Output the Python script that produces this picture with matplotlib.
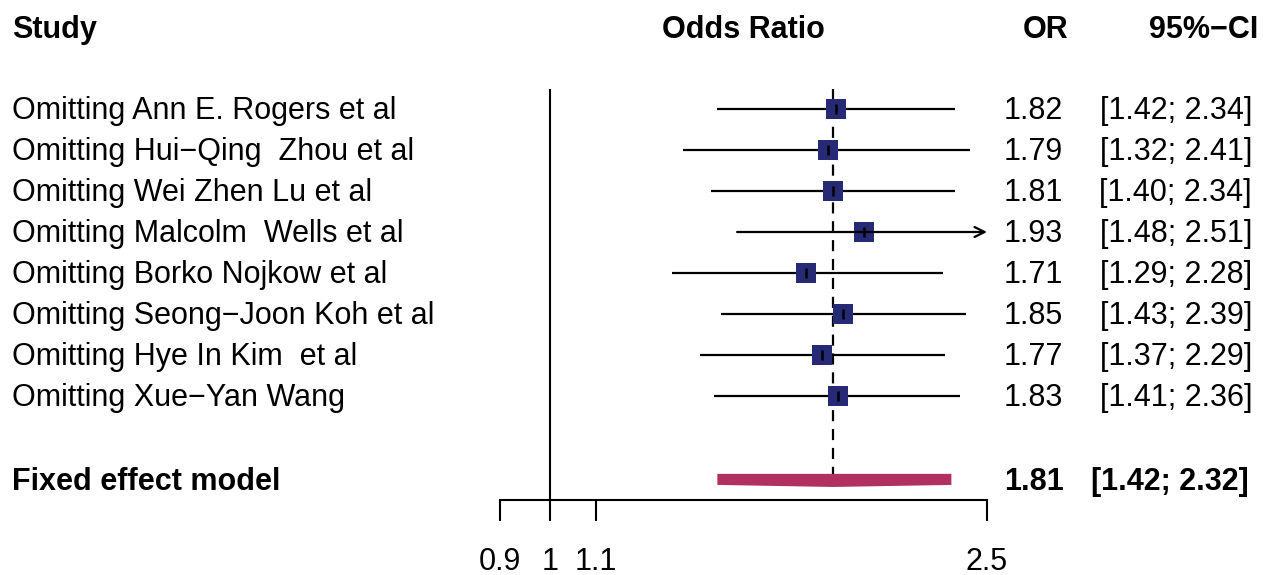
import numpy as np
import matplotlib
matplotlib.use('Agg')
import matplotlib.pyplot as plt

plt.rcParams['font.family'] = ['Liberation Sans', 'DejaVu Sans']

studies = ['Omitting Ann E. Rogers et al', 'Omitting Hui\u2212Qing  Zhou et al',
           'Omitting Wei Zhen Lu et al', 'Omitting Malcolm  Wells et al',
           'Omitting Borko Nojkow et al', 'Omitting Seong\u2212Joon Koh et al',
           'Omitting Hye In Kim  et al', 'Omitting Xue\u2212Yan Wang']
odds = [1.82, 1.79, 1.81, 1.93, 1.71, 1.85, 1.77, 1.83]
lower = [1.42, 1.32, 1.40, 1.48, 1.29, 1.43, 1.37, 1.41]
upper = [2.34, 2.41, 2.34, 2.51, 2.28, 2.39, 2.29, 2.36]

fixed_label = 'Fixed effect model'
fixed_or = 1.81
fixed_lo = 1.42
fixed_hi = 2.32

xticks = [0.9, 1, 1.1, 2.5]
xmin, xmax = 0.9, 2.5

W, H = 1263, 575
fig = plt.figure(figsize=(W / 100, H / 100), dpi=100)

# row i sits at pixel 109 + 41*i
def px2row(p):
    return (p - 109) / 41.0

ax = fig.add_axes([500 / W, 0, (987 - 500) / W, 1])
ax.set_xscale('log')
ax.set_xlim(xmin, xmax)
ax.set_ylim(px2row(H), px2row(0))
ax.patch.set_visible(False)
for s in ['top', 'left', 'right']:
    ax.spines[s].set_visible(False)

axis_row = px2row(500)
fixed_row = px2row(480)
top_row = px2row(89)

fs = 22

ax.spines['bottom'].set_position(('data', axis_row))
ax.spines['bottom'].set_bounds(xmin, xmax)
ax.spines['bottom'].set_linewidth(1.5)
ax.set_xticks(xticks)
ax.set_xticklabels([str(t) for t in xticks])
ax.xaxis.set_minor_locator(matplotlib.ticker.NullLocator())
ax.tick_params(axis='x', direction='out', length=15, width=1.5, pad=19, labelsize=fs)
ax.set_yticks([])

# reference line at 1 and dashed line at pooled estimate
ax.vlines(1, top_row, axis_row, color='black', lw=1.5)
ax.vlines(fixed_or, top_row, fixed_row - 0.15, color='black', lw=1.6, linestyles=(0, (5, 3.5)))

rows = np.arange(len(studies))
for r, o, lo, hi in zip(rows, odds, lower, upper):
    if hi > xmax:
        ax.annotate('', xy=(xmax, r), xytext=(lo, r),
                    arrowprops=dict(arrowstyle='->', lw=1.6, color='black', mutation_scale=18,
                                    shrinkA=0, shrinkB=0))
    else:
        ax.plot([lo, hi], [r, r], color='black', lw=1.6, solid_capstyle='butt')
ax.plot(odds, rows, 's', color='#262A75', markersize=14.5, markeredgewidth=0)
ax.plot(odds, rows, '|', color='black', markersize=7, markeredgewidth=1.8)

# pooled diamond (flattened)
dx = [fixed_lo, fixed_hi, fixed_hi, fixed_or, fixed_lo]
dy = [fixed_row - 0.15, fixed_row - 0.15, fixed_row + 0.12, fixed_row + 0.17, fixed_row + 0.12]
ax.fill(dx, dy, color='#B03060', lw=0)

def ty(p):
    return 1 - (p + 2) / H

def row_px(r):
    return 109 + 41 * r

fig.text(12 / W, ty(28), 'Study', fontsize=fs, fontweight='bold', va='center', ha='left')
fig.text(743.5 / W, ty(28), 'Odds Ratio', fontsize=fs, fontweight='bold', va='center', ha='center')
fig.text(1068 / W, ty(28), 'OR', fontsize=fs, fontweight='bold', va='center', ha='right')
fig.text(1258 / W, ty(28), '95%\u2212CI', fontsize=fs, fontweight='bold', va='center', ha='right')

for r, name, o, lo, hi in zip(rows, studies, odds, lower, upper):
    y = ty(row_px(r))
    fig.text(12 / W, y, name, fontsize=fs, va='center', ha='left')
    fig.text(1063 / W, y, '%.2f' % o, fontsize=fs, va='center', ha='right')
    fig.text(1252 / W, y, '[%.2f; %.2f]' % (lo, hi), fontsize=fs, va='center', ha='right')

yf = ty(480)
fig.text(12 / W, yf, fixed_label, fontsize=fs, fontweight='bold', va='center', ha='left')
fig.text(1064 / W, yf, '%.2f' % fixed_or, fontsize=fs, fontweight='bold', va='center', ha='right')
fig.text(1249 / W, yf, '[%.2f; %.2f]' % (fixed_lo, fixed_hi), fontsize=fs, fontweight='bold', va='center', ha='right')

fig.savefig('out.png', dpi=100)
